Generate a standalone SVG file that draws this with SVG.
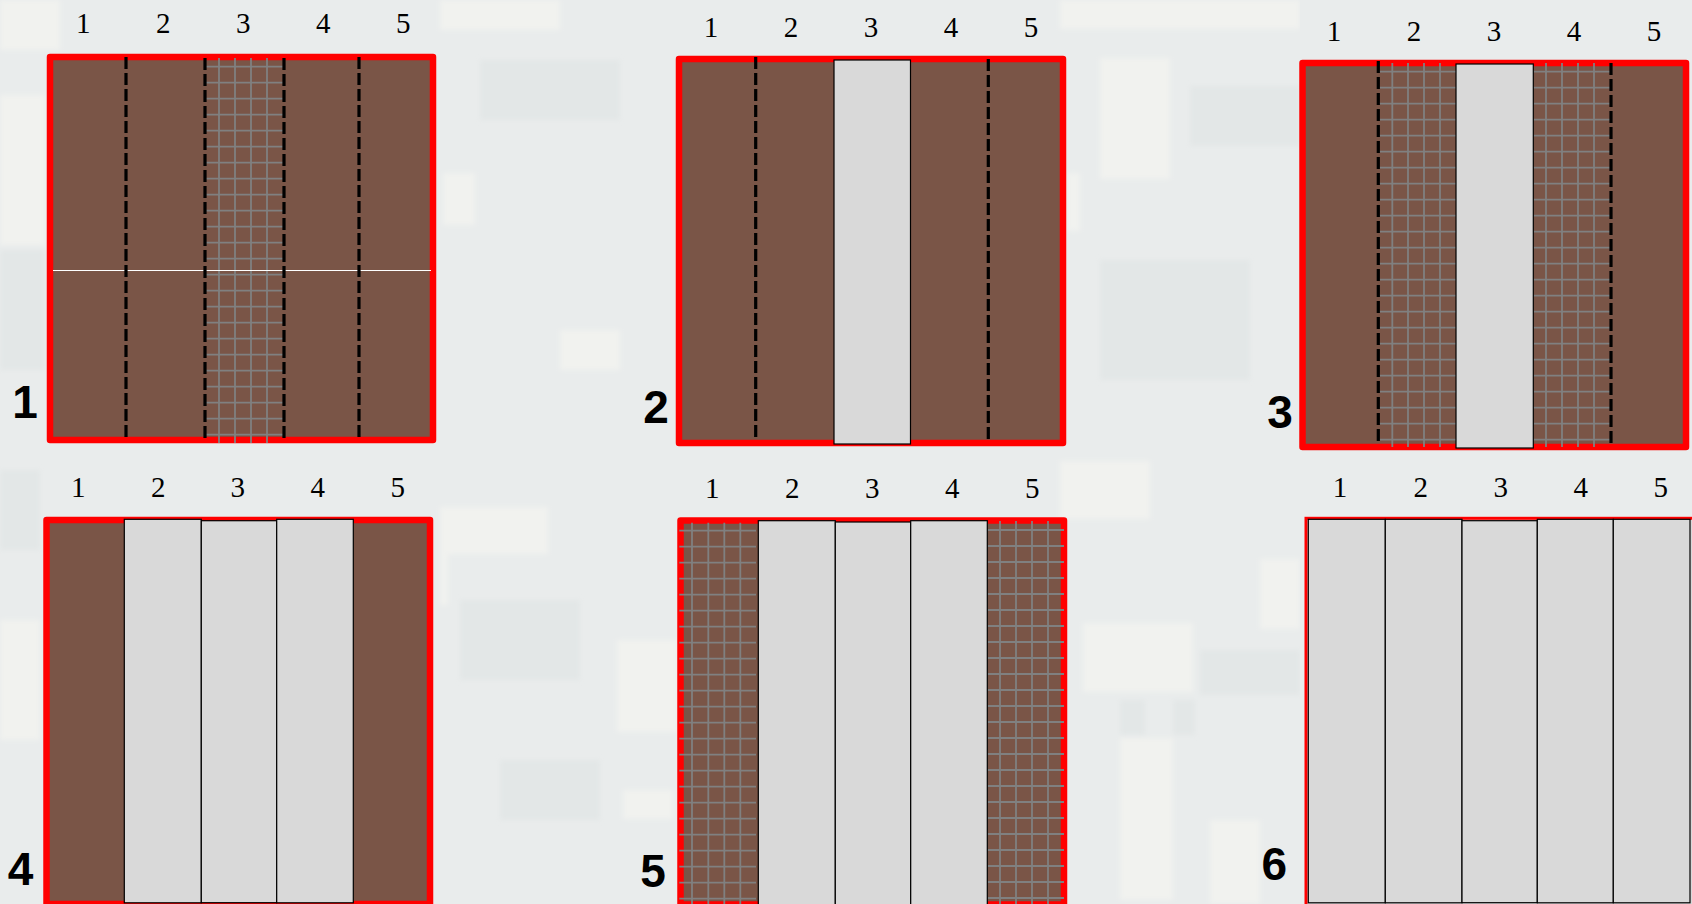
<svg xmlns="http://www.w3.org/2000/svg" width="1692" height="904" viewBox="0 0 1692 904">
<defs>
<filter id="soft" x="0" y="0" width="1" height="1"><feGaussianBlur stdDeviation="2.5"/></filter>
</defs>
<style>
.frame{fill:#7a5547;stroke:#ff0000;stroke-width:6.5;stroke-linejoin:round}
.open{fill:#d9d9d9;stroke:#000;stroke-width:1.2}
.dash{stroke:#000;stroke-width:3.2;stroke-dasharray:12 4;fill:none}
.grid{stroke:#808080;stroke-width:1.8;fill:none}
.col{font-family:"Liberation Serif","Times New Roman",serif;font-size:29px;fill:#000;text-anchor:middle}
.num{font-family:"Liberation Sans",Arial,sans-serif;font-weight:bold;font-size:46px;fill:#000;text-anchor:middle}
.lt{fill:#f1f2ef}
.dk{fill:#e3e7e7}
</style>
<g id="background">
<rect x="0" y="0" width="1692" height="904" fill="#e9ecec"/>
<g filter="url(#soft)">
<rect class="lt" x="0" y="0" width="60" height="50"/>
<rect class="lt" x="0" y="95" width="45" height="150"/>
<rect class="dk" x="0" y="250" width="45" height="120"/>
<rect class="lt" x="443" y="173" width="32" height="52"/>
<rect class="lt" x="440" y="0" width="120" height="30"/>
<rect class="dk" x="480" y="60" width="140" height="60"/>
<rect class="lt" x="440" y="507" width="108" height="47"/>
<rect class="lt" x="440" y="553" width="8" height="52"/>
<rect class="lt" x="617" y="640" width="60" height="92"/>
<rect class="lt" x="623" y="790" width="50" height="29"/>
<rect class="dk" x="460" y="600" width="120" height="80"/>
<rect class="dk" x="500" y="760" width="100" height="60"/>
<rect class="lt" x="1060" y="0" width="240" height="29"/>
<rect class="lt" x="1100" y="58" width="70" height="121"/>
<rect class="lt" x="1067" y="173" width="13" height="58"/>
<rect class="dk" x="1190" y="86" width="110" height="60"/>
<rect class="dk" x="1100" y="260" width="150" height="120"/>
<rect class="lt" x="1060" y="461" width="90" height="58"/>
<rect class="lt" x="1260" y="559" width="40" height="70"/>
<rect class="lt" x="1083" y="623" width="110" height="69"/>
<rect class="lt" x="1120" y="738" width="53" height="162"/>
<rect class="dk" x="1120" y="700" width="25" height="35"/>
<rect class="dk" x="1173" y="700" width="22" height="35"/>
<rect class="dk" x="1200" y="650" width="100" height="45"/>
<rect class="lt" x="1210" y="820" width="50" height="84"/>
<rect class="lt" x="0" y="620" width="40" height="120"/>
<rect class="dk" x="0" y="470" width="40" height="80"/>
<rect class="lt" x="1000" y="60" width="60" height="40"/>
<rect class="lt" x="560" y="330" width="60" height="40"/>
</g>
</g>

<g id="panel1">
<rect class="frame" x="50" y="57" width="383" height="383"/>
<path class="grid" d="M206 66.7h77m-77 16h77m-77 16h77m-77 16h77m-77 16h77m-77 16h77m-77 16h77m-77 16h77m-77 16h77m-77 16h77m-77 16h77m-77 16h77m-77 16h77m-77 16h77m-77 16h77m-77 16h77m-77 16h77m-77 16h77m-77 16h77m-77 16h77m-77 16h77m-77 16h77m-77 16h77m-77 16h77M219 58V443M235 58V443M251 58V443M267 58V443"/>
<line x1="53" y1="270.5" x2="431" y2="270.5" stroke="#fff" stroke-width="1.2"/>
<path class="dash" d="M126 57V437M205 58V438M284 58V438M359 57V437"/>
<text class="col" x="83.3" y="33.3">1</text>
<text class="col" x="163.3" y="33.3">2</text>
<text class="col" x="243.3" y="33.3">3</text>
<text class="col" x="323.3" y="33.3">4</text>
<text class="col" x="403.3" y="33.3">5</text>
<text class="num" x="25" y="418">1</text>
</g>

<g id="panel2">
<rect class="frame" x="679" y="59" width="384" height="384"/>
<path class="dash" d="M755.7 57V437M988.3 59V439"/>
<rect class="open" x="834" y="60" width="76.5" height="384"/>
<text class="col" x="711" y="36.7">1</text>
<text class="col" x="791" y="36.7">2</text>
<text class="col" x="871" y="36.7">3</text>
<text class="col" x="951" y="36.7">4</text>
<text class="col" x="1031" y="36.7">5</text>
<text class="num" x="656" y="423">2</text>
</g>

<g id="panel3">
<rect class="frame" x="1302.5" y="63" width="383.5" height="384"/>
<path class="grid" d="M1379.3 71.7h76.7m-76.7 16h76.7m-76.7 16h76.7m-76.7 16h76.7m-76.7 16h76.7m-76.7 16h76.7m-76.7 16h76.7m-76.7 16h76.7m-76.7 16h76.7m-76.7 16h76.7m-76.7 16h76.7m-76.7 16h76.7m-76.7 16h76.7m-76.7 16h76.7m-76.7 16h76.7m-76.7 16h76.7m-76.7 16h76.7m-76.7 16h76.7m-76.7 16h76.7m-76.7 16h76.7m-76.7 16h76.7m-76.7 16h76.7m-76.7 16h76.7m-76.7 16h76.7M1392.3 63V447M1408 63V447M1424 63V447M1440 63V447"/>
<path class="grid" d="M1533 71.7h77m-77 16h77m-77 16h77m-77 16h77m-77 16h77m-77 16h77m-77 16h77m-77 16h77m-77 16h77m-77 16h77m-77 16h77m-77 16h77m-77 16h77m-77 16h77m-77 16h77m-77 16h77m-77 16h77m-77 16h77m-77 16h77m-77 16h77m-77 16h77m-77 16h77m-77 16h77m-77 16h77M1546 63V447M1562 63V447M1578 63V447M1594 63V447"/>
<path class="dash" d="M1378.3 61V441.7M1611 63V443"/>
<rect class="open" x="1456" y="64" width="77.3" height="384"/>
<text class="col" x="1334" y="40.7">1</text>
<text class="col" x="1414" y="40.7">2</text>
<text class="col" x="1494" y="40.7">3</text>
<text class="col" x="1574" y="40.7">4</text>
<text class="col" x="1654" y="40.7">5</text>
<text class="num" x="1280" y="428">3</text>
</g>

<g id="panel4">
<rect class="frame" x="46.5" y="520" width="383.5" height="384"/>
<rect class="open" x="124.3" y="519.3" width="77" height="383.5"/>
<rect class="open" x="201.3" y="520.7" width="75.4" height="382"/>
<rect class="open" x="276.7" y="519.3" width="76.6" height="383.5"/>
<text class="col" x="78.3" y="497.3">1</text>
<text class="col" x="158.3" y="497.3">2</text>
<text class="col" x="237.7" y="497.3">3</text>
<text class="col" x="317.7" y="497.3">4</text>
<text class="col" x="397.7" y="497.3">5</text>
<text class="num" x="20.5" y="885">4</text>
</g>

<g id="panel5">
<rect class="frame" x="680.5" y="520.5" width="383.5" height="384"/>
<path class="grid" d="M679.3 530.7h76.7m-76.7 16h76.7m-76.7 16h76.7m-76.7 16h76.7m-76.7 16h76.7m-76.7 16h76.7m-76.7 16h76.7m-76.7 16h76.7m-76.7 16h76.7m-76.7 16h76.7m-76.7 16h76.7m-76.7 16h76.7m-76.7 16h76.7m-76.7 16h76.7m-76.7 16h76.7m-76.7 16h76.7m-76.7 16h76.7m-76.7 16h76.7m-76.7 16h76.7m-76.7 16h76.7m-76.7 16h76.7m-76.7 16h76.7m-76.7 16h76.7m-76.7 16h76.7M692 522.7V904M708.3 522.7V904M724.3 522.7V904M740.3 522.7V904"/>
<path class="grid" d="M987.3 530h76.7m-76.7 16h76.7m-76.7 16h76.7m-76.7 16h76.7m-76.7 16h76.7m-76.7 16h76.7m-76.7 16h76.7m-76.7 16h76.7m-76.7 16h76.7m-76.7 16h76.7m-76.7 16h76.7m-76.7 16h76.7m-76.7 16h76.7m-76.7 16h76.7m-76.7 16h76.7m-76.7 16h76.7m-76.7 16h76.7m-76.7 16h76.7m-76.7 16h76.7m-76.7 16h76.7m-76.7 16h76.7m-76.7 16h76.7m-76.7 16h76.7m-76.7 16h76.7M1000 521V904M1016 521V904M1032 521V904M1048 521V904"/>
<rect class="open" x="758.3" y="520.7" width="77" height="384"/>
<rect class="open" x="835.3" y="522" width="75.4" height="384"/>
<rect class="open" x="910.7" y="520.7" width="76.6" height="384"/>
<text class="col" x="712.3" y="498.3">1</text>
<text class="col" x="792.3" y="498.3">2</text>
<text class="col" x="872.3" y="498.3">3</text>
<text class="col" x="952.3" y="498.3">4</text>
<text class="col" x="1032.3" y="498.3">5</text>
<text class="num" x="653" y="887.3">5</text>
</g>

<g id="panel6">
<rect x="1306" y="518.3" width="400" height="400" fill="#d9d9d9" stroke="#ff0000" stroke-width="3"/>
<rect class="open" x="1308.3" y="519.3" width="77" height="383.5"/>
<rect class="open" x="1385.3" y="519.3" width="76.7" height="383.5"/>
<rect class="open" x="1462" y="520.7" width="75.3" height="382"/>
<rect class="open" x="1537.3" y="519.3" width="76" height="383.5"/>
<rect class="open" x="1613.3" y="519.3" width="76.7" height="383.5"/>
<text class="col" x="1340" y="497.3">1</text>
<text class="col" x="1420.7" y="497.3">2</text>
<text class="col" x="1500.7" y="497.3">3</text>
<text class="col" x="1580.7" y="497.3">4</text>
<text class="col" x="1660.7" y="497.3">5</text>
<text class="num" x="1274.3" y="880">6</text>
</g>

<g id="connectors"></g>
</svg>
